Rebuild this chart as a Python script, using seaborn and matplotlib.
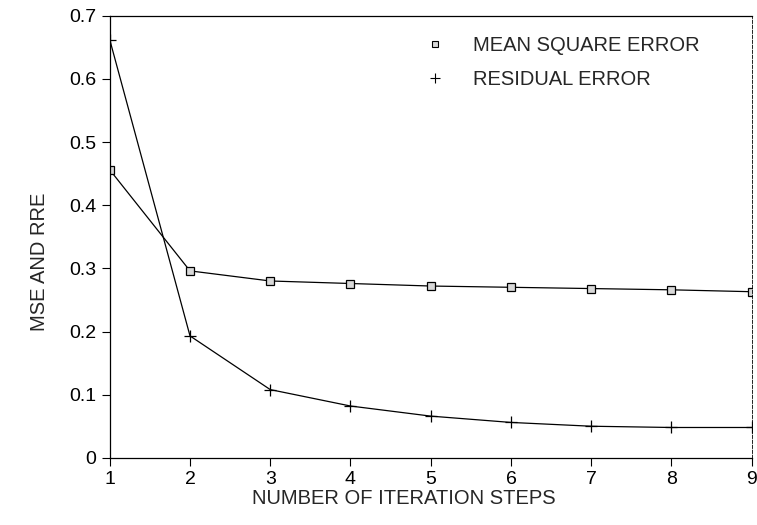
import numpy as np
import pandas as pd
import matplotlib
matplotlib.use("Agg")
import matplotlib.pyplot as plt
from matplotlib.lines import Line2D
import seaborn as sns

steps = [1, 2, 3, 4, 5, 6, 7, 8, 9]
mse = [0.456, 0.296, 0.280, 0.276, 0.272, 0.270, 0.268, 0.266, 0.263]
residual = [0.662, 0.193, 0.108, 0.082, 0.066, 0.056, 0.050, 0.048, 0.048]
yticks = [0, 0.1, 0.2, 0.3, 0.4, 0.5, 0.6, 0.7]
ytick_labels = ["0", "0.1", "0.2", "0.3", "0.4", "0.5", "0.6", "0.7"]

sns.set_style("ticks")
plt.rcParams["font.family"] = ["Liberation Sans", "DejaVu Sans"]

fig = plt.figure(figsize=(7.57, 5.25), dpi=100)
ax = fig.add_axes([0.145, 0.128, 0.848, 0.842])

df = pd.DataFrame({"step": steps, "mse": mse, "residual": residual})
sns.lineplot(data=df, x="step", y="mse", ax=ax, color="black", lw=0.9,
             marker="s", markersize=6, markerfacecolor="#d8d8d8",
             markeredgecolor="black", markeredgewidth=0.9)
sns.lineplot(data=df, x="step", y="residual", ax=ax, color="black", lw=0.9,
             marker="+", markersize=9, markeredgecolor="black",
             markeredgewidth=0.9)

ax.set_xlim(1, 9)
ax.set_ylim(0, 0.7)
ax.set_xticks(steps)
ax.set_yticks(yticks)
ax.set_yticklabels(ytick_labels)
ax.tick_params(axis="both", direction="out", length=6, width=0.8,
               labelsize=14, colors="black")
ax.set_xlabel("NUMBER OF ITERATION STEPS", fontsize=14.5)
ax.set_ylabel("MSE AND RRE", fontsize=14.5)
ax.xaxis.set_label_coords(0.458, -0.07)
ax.yaxis.set_label_coords(-0.095, 0.443)

for side in ["left", "bottom", "top", "right"]:
    ax.spines[side].set_visible(True)
    ax.spines[side].set_color("black")
    ax.spines[side].set_linewidth(0.9)
ax.spines["right"].set_linestyle((0, (4, 2)))
ax.spines["right"].set_linewidth(0.6)

handles = [
    Line2D([], [], color="black", ls="none", marker="s", markersize=5,
           markerfacecolor="#d8d8d8", markeredgewidth=0.8),
    Line2D([], [], color="black", ls="none", marker="+", markersize=7,
           markeredgewidth=0.8),
]
ax.legend(handles, ["MEAN SQUARE ERROR", "RESIDUAL ERROR"], loc="center left",
          bbox_to_anchor=(0.491, 0.895), frameon=False, fontsize=14.5,
          borderaxespad=0, borderpad=0, handlelength=1.0,
          handletextpad=1.4, labelspacing=0.75)

fig.savefig("out.png", dpi=100)
